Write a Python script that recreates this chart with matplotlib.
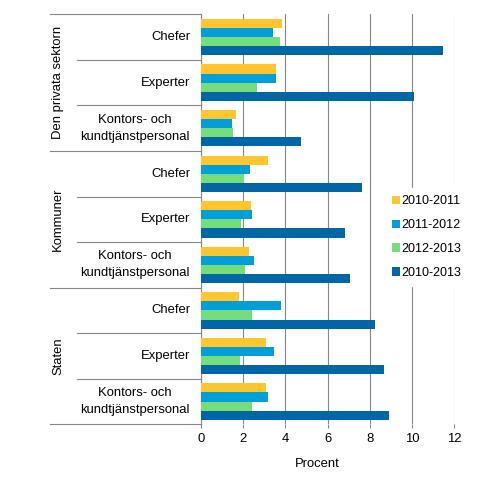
import matplotlib
matplotlib.use('Agg')
import matplotlib.pyplot as plt
import matplotlib.transforms as mtransforms
from matplotlib.lines import Line2D
from matplotlib.patches import Patch

plt.rcParams['font.family'] = ['Liberation Sans', 'DejaVu Sans']

groups = ['Den privata sektorn', 'Kommuner', 'Staten']
occupations = ['Chefer', 'Experter', 'Kontors- och\nkundtjänstpersonal']
series = ['2010-2011', '2011-2012', '2012-2013', '2010-2013']
v_2010_2011 = [3.85, 3.56, 1.67, 3.19, 2.38, 2.29, 1.81, 3.09, 3.09]
v_2011_2012 = [3.42, 3.56, 1.48, 2.33, 2.43, 2.52, 3.80, 3.47, 3.19]
v_2012_2013 = [3.75, 2.67, 1.53, 2.02, 1.91, 2.10, 2.43, 1.86, 2.43]
v_2010_2013 = [11.47, 10.10, 4.75, 7.63, 6.83, 7.07, 8.25, 8.68, 8.91]
x_ticks = [0, 2, 4, 6, 8, 10, 12]
x_label = 'Procent'

colors = ['#FFC62F', '#009FDA', '#75DD7C', '#0066A5']
grid_c = '#868686'
FS = 9
FSL = 9.4

W, H = 494, 483
fig = plt.figure(figsize=(W / 100, H / 100), dpi=100)
x0, x1, yt, yb = 201, 454.3, 14.3, 424.3
ax = fig.add_axes([x0 / W, 1 - yb / H, (x1 - x0) / W, (yb - yt) / H])

all_vals = [v_2010_2011, v_2011_2012, v_2012_2013, v_2010_2013]
n_rows = len(v_2010_2011)
bh = 0.2
offsets = [-0.3, -0.1, 0.1, 0.3]
for vals, off, c, lab in zip(all_vals, offsets, colors, series):
    ax.barh([i + 0.5 + off for i in range(n_rows)], vals, height=bh,
            color=c, label=lab, linewidth=0, zorder=3)

ax.set_xlim(0, 12)
ax.set_ylim(n_rows, 0)
ax.set_xticks(x_ticks)
ax.set_xticklabels([str(t) for t in x_ticks], fontsize=FSL)
ax.set_yticks([])
ax.set_axisbelow(True)
ax.xaxis.grid(True, color=grid_c, linewidth=0.8)
ax.tick_params(axis='x', length=3, width=0.8, color=grid_c, pad=3.5)
for s in ['top', 'right', 'bottom']:
    ax.spines[s].set_visible(False)
ax.spines['left'].set_color(grid_c)
ax.spines['left'].set_linewidth(0.8)

trans = mtransforms.blended_transform_factory(ax.transAxes, ax.transData)
px = x1 - x0
for b in range(n_rows + 1):
    xs = (50 - x0) / px if b % 3 == 0 else (77 - x0) / px
    ax.add_line(Line2D([xs, 0], [b, b], transform=trans, color=grid_c,
                       linewidth=0.8, clip_on=False))

labels_full = [o for g in groups for o in occupations]
for i, lab in enumerate(labels_full):
    ax.text((190 - x0) / px, i + 0.5, lab, transform=trans, ha='right',
            va='center', multialignment='center', fontsize=FSL, linespacing=1.55)

for gi, g in enumerate(groups):
    ax.text((58 - x0) / px, gi * 3 + 1.5, g, transform=trans, rotation=90,
            ha='center', va='center', fontsize=FSL)

ax.text((317 - x0) / px, (yb - 464) / (yb - yt), x_label, transform=ax.transAxes,
        ha='center', va='center', fontsize=FSL)

handles = [Patch(facecolor=c, edgecolor='none') for c in colors]
leg = fig.legend(handles, series, loc='center left',
                 bbox_to_anchor=(384 / W, 1 - 237 / H), bbox_transform=fig.transFigure,
                 fontsize=FS, frameon=True, fancybox=False, framealpha=1,
                 facecolor='white', edgecolor='white', borderpad=0.6,
                 handlelength=0.65, handleheight=0.65, handletextpad=0.15,
                 labelspacing=0.95, borderaxespad=0)

fig.savefig('out.png', dpi=100)
